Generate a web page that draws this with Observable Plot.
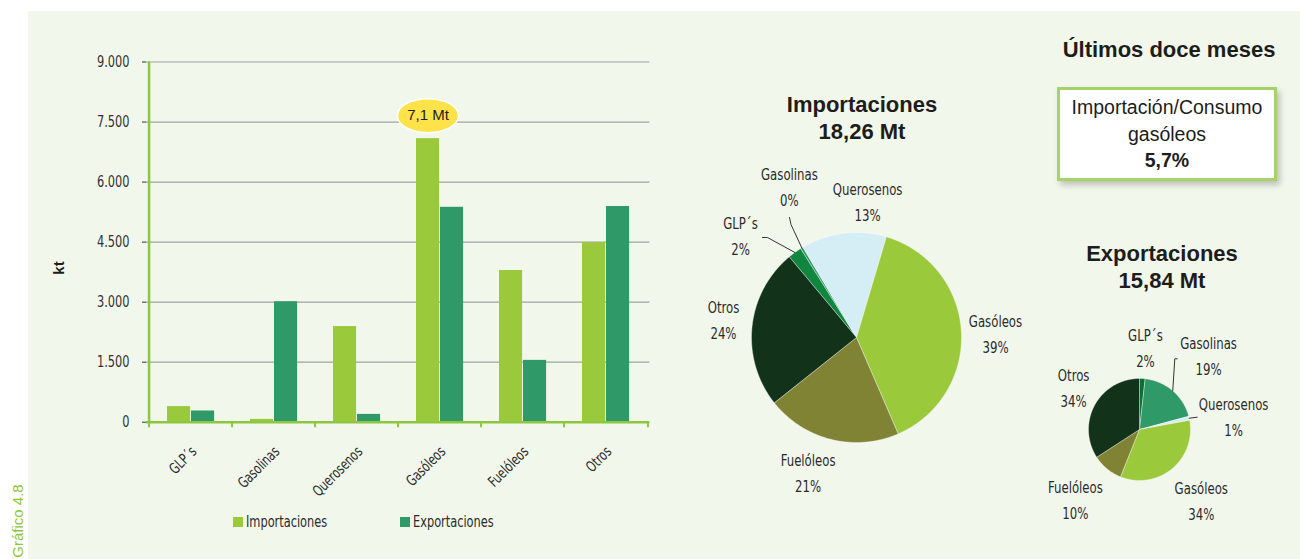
<!DOCTYPE html>
<html>
<head>
<meta charset="utf-8">
<script src="https://cdn.jsdelivr.net/npm/d3@7"></script>
<script src="https://cdn.jsdelivr.net/npm/@observablehq/plot@0.6"></script>
<style>
  html, body { margin: 0; padding: 0; background: #ffffff; }
  body { width: 1300px; height: 559px; position: relative; overflow: hidden; }
  #panel { position: absolute; left: 28px; top: 11px; width: 1272px; height: 548px; background: #f2f7ec; }
  .abs { position: absolute; }
  .title { font-family: 'Liberation Sans', Arial, sans-serif; font-weight: bold; font-size: 22px; color: #1d1d1b; text-align: center; line-height: 26.5px; white-space: nowrap; }
  .narrow { font-family: 'Liberation Sans Narrow', 'Arial Narrow', 'DejaVu Sans Condensed', sans-serif; }
  #box { left: 1057px; top: 87px; width: 214px; height: 84px; background: #fff; border: 3px solid #a5d36a; box-shadow: 3px 4px 6px rgba(0,0,0,0.22);
         font-family: 'Liberation Sans', Arial, sans-serif; font-size: 19.5px; color: #1d1d1b; text-align: center; line-height: 26.6px; padding-top: 4px; box-sizing: content-box; }
  .legend { font-size: 16px; color: #2a2a2a; display: flex; align-items: center; white-space: nowrap; }
  .legend .t { display: inline-block; transform: scaleX(0.79); transform-origin: left center; }
  .sw { width: 10px; height: 10px; display: inline-block; margin-right: 3px; }
</style>
</head>
<body>
<div id="panel"></div>
<div id="bars" class="abs" style="left:0;top:0"></div>
<div id="pieImp" class="abs" style="left:690px;top:150px"></div>
<div id="pieExp" class="abs" style="left:1040px;top:320px"></div>

<div class="abs title" style="left:762px;top:92px;width:200px">Importaciones<br>18,26 Mt</div>
<div class="abs title" style="left:1062px;top:241px;width:200px">Exportaciones<br>15,84 Mt</div>
<div class="abs title" style="left:1049px;top:37px;width:240px">Últimos doce meses</div>
<div id="box" class="abs">Importación/Consumo<br>gasóleos<br><b>5,7%</b></div>

<div class="abs" style="left:58px;top:268px;transform:translate(-50%,-50%) rotate(-90deg);font-family:'Liberation Sans',sans-serif;font-weight:bold;font-size:15px;color:#1d1d1b">kt</div>
<div class="abs" style="left:17px;top:521px;transform:translate(-50%,-50%) rotate(-90deg);font-family:'Liberation Sans',Arial,sans-serif;font-size:15px;color:#8dc63f;white-space:nowrap">Gráfico 4.8</div>

<div class="abs legend narrow" style="left:233px;top:512px"><span class="sw" style="background:#9bc93c"></span><span class="t">Importaciones</span></div>
<div class="abs legend narrow" style="left:400px;top:512px"><span class="sw" style="background:#2f9967"></span><span class="t">Exportaciones</span></div>

<script>
// ---------------- DATA ----------------
const categorias = ["GLP´s", "Gasolinas", "Querosenos", "Gasóleos", "Fuelóleos", "Otros"];
const importaciones = [390, 70, 2390, 7085, 3790, 4485];   // kt
const exportaciones = [280, 3010, 195, 5370, 1545, 5390];  // kt
const pctImportaciones = ["2%", "0%", "13%", "39%", "21%", "24%"];
const pctExportaciones = ["2%", "19%", "1%", "34%", "10%", "34%"];
const yTicks = [0, 1500, 3000, 4500, 6000, 7500, 9000];
const yTickLabels = ["0", "1.500", "3.000", "4.500", "6.000", "7.500", "9.000"];

// ---------------- STYLE ----------------
const NARROW = "'Liberation Sans Narrow','Arial Narrow','DejaVu Sans Condensed',sans-serif";
const SANS = "'Liberation Sans',Arial,sans-serif";
const CONDENSE = 0.79;
const C_IMP = "#9bc93c", C_EXP = "#2f9967", AXIS_GREEN = "#8dc63f", GRID = "#9ea59e";
const sliceColorsImp = ["#118641", "#2f9967", "#d5edf5", "#9bc93c", "#808234", "#13321a"];
const sliceColorsExp = ["#0c6f36", "#2f9967", "#d5edf5", "#9bc93c", "#808234", "#13321a"];

// ---------------- BAR CHART ----------------
const rows = categorias.map((c, i) => ({cat: c, imp: importaciones[i], exp: exportaciones[i]}));
const BW = 660, BH = 559, ML = 146, MR = 10.6, MT = 61.5, MB = 137.3;
const band = (BW - ML - MR) / categorias.length;

const ellipseSymbol = {
  draw(ctx, size) {
    const ry = Math.sqrt(size / Math.PI), rx = ry * 1.8, k = 0.5523;
    ctx.moveTo(rx, 0);
    ctx.bezierCurveTo(rx, k * ry, k * rx, ry, 0, ry);
    ctx.bezierCurveTo(-k * rx, ry, -rx, k * ry, -rx, 0);
    ctx.bezierCurveTo(-rx, -k * ry, -k * rx, -ry, 0, -ry);
    ctx.bezierCurveTo(k * rx, -ry, rx, -k * ry, rx, 0);
    ctx.closePath();
  }
};
const iGas = categorias.indexOf("Gasóleos");
const callout = [{cat: categorias[iGas], v: importaciones[iGas],
  label: (importaciones[iGas] / 1000).toFixed(1).replace(".", ",") + " Mt"}];

const barChart = Plot.plot({
  width: BW, height: BH,
  marginLeft: ML, marginRight: MR, marginTop: MT, marginBottom: MB,
  style: {background: "transparent", fontFamily: NARROW, fontSize: "16px", color: "#333", overflow: "visible"},
  x: {type: "band", domain: categorias, padding: 0, axis: null},
  y: {domain: [0, 9000], ticks: yTicks, tickFormat: d => yTickLabels[yTicks.indexOf(d)], tickSize: 4, tickPadding: 13, label: null},
  marks: [
    Plot.ruleY(yTicks.filter(v => v > 0), {stroke: GRID, strokeWidth: 1.2}),
    Plot.barY(rows, {x: "cat", y: "imp", fill: C_IMP, insetLeft: 18, insetRight: band - 42}),
    Plot.barY(rows, {x: "cat", y: "exp", fill: C_EXP, insetLeft: 42, insetRight: band - 66}),
    Plot.ruleY([0], {stroke: AXIS_GREEN, strokeWidth: 2.5}),
    Plot.ruleX([categorias[0]], {x: d => d, dx: -band / 2, y1: 0, y2: 9000, stroke: AXIS_GREEN, strokeWidth: 2.5}),
    Plot.ruleX(categorias, {x: d => d, dx: -band / 2, y1: 0, y2: -140, stroke: AXIS_GREEN, strokeWidth: 2}),
    Plot.ruleX([categorias[categorias.length - 1]], {x: d => d, dx: band / 2, y1: 0, y2: -140, stroke: AXIS_GREEN, strokeWidth: 2}),
    Plot.text(categorias, {x: d => d, y: () => 0, dx: 3, dy: 27, rotate: -45, textAnchor: "end", lineAnchor: "middle", fontSize: 15, fill: "#2a2a2a"}),
    Plot.dot(callout, {x: "cat", y: "v", dx: -12, dy: -23, r: 17, symbol: ellipseSymbol, fill: "#fde24a", stroke: "#ffffff", strokeWidth: 1.5}),
    Plot.text(callout, {x: "cat", y: "v", dx: -12, dy: -23, text: "label", fontFamily: SANS, fontSize: 15, fill: "#1d1d1b"})
  ]
});
document.getElementById("bars").appendChild(barChart);

// ---------------- PIES ----------------
function pieChart({w, h, cx, cy, r, values, pcts, start, colors, labelLayout, leaders}) {
  const total = d3.sum(values);
  let a = start;
  const slices = values.map((v, i) => {
    const a0 = a, a1 = a + v / total * 360; a = a1;
    return {cat: categorias[i], a0, a1, mid: (a0 + a1) / 2, color: colors[i], pct: pcts[i]};
  });
  const rad = d => d * Math.PI / 180;
  const polar = (ang, R) => ({x: R * Math.sin(rad(ang)), y: R * Math.cos(rad(ang))});
  const marks = [];
  for (const s of slices) {
    const pts = [{x: 0, y: 0}];
    const n = Math.max(2, Math.ceil((s.a1 - s.a0) / 0.5));
    for (let k = 0; k <= n; k++) pts.push(polar(s.a0 + (s.a1 - s.a0) * k / n, r));
    pts.push({x: 0, y: 0});
    marks.push(Plot.line(pts, {x: "x", y: "y", fill: s.color, stroke: "#ffffff", strokeOpacity: 0.55, strokeWidth: 0.7}));
  }
  const labels = slices.map((s, i) => {
    const L = labelLayout[i];
    return {...polar(s.mid + L.da, L.rf * r), name: s.cat, pct: s.pct};
  });
  for (const s of slices) {
    const ld = leaders[s.cat];
    if (!ld) continue;
    const pts = ld.map(([dx, dy]) => ({x: dx, y: -dy}));
    pts.push(polar(s.mid, r));
    marks.push(Plot.line(pts, {x: "x", y: "y", stroke: "#333", strokeWidth: 1}));
  }
  marks.push(Plot.text(labels, {x: "x", y: "y", text: "name", dy: -13, lineAnchor: "middle", fontSize: 16.5, fill: "#2a2a2a"}));
  marks.push(Plot.text(labels, {x: "x", y: "y", text: "pct", dy: 13, lineAnchor: "middle", fontSize: 16.5, fill: "#2a2a2a"}));
  return Plot.plot({
    width: w, height: h, margin: 0,
    style: {background: "transparent", fontFamily: NARROW, fontSize: "16px", overflow: "visible"},
    x: {domain: [-cx, w - cx], range: [0, w], axis: null},
    y: {domain: [-(h - cy), cy], range: [h, 0], axis: null},
    marks
  });
}

document.getElementById("pieImp").appendChild(pieChart({
  w: 350, h: 355, cx: 166, cy: 187, r: 105,
  values: importaciones, pcts: pctImportaciones, start: -39.8, colors: sliceColorsImp,
  labelLayout: [
    {da: -13, rf: 1.465}, {da: 7.3, rf: 1.565}, {da: 11.8, rf: 1.29},
    {da: 2.3, rf: 1.324}, {da: 5.5, rf: 1.376}, {da: 1.3, rf: 1.277}
  ],
  leaders: {"GLP´s": [[-94, -100], [-89, -100]], "Gasolinas": [[-67, -120], [-65.5, -113]]}
}));

document.getElementById("pieExp").appendChild(pieChart({
  w: 260, h: 215, cx: 99, cy: 109, r: 51,
  values: exportaciones, pcts: pctExportaciones, start: 0, colors: sliceColorsExp,
  labelLayout: [
    {da: 1, rf: 1.59}, {da: 2.7, rf: 1.97}, {da: 5.5, rf: 1.86},
    {da: -1.3, rf: 1.86}, {da: 2.6, rf: 1.875}, {da: 3.3, rf: 1.52}
  ],
  leaders: {"Gasolinas": [[37.7, -70.7], [35.3, -70.7]], "Querosenos": [[57.7, -12.3]]}
}));

// Condense the narrow-font texts horizontally to mimic the condensed typeface
document.querySelectorAll("#bars svg text, #pieImp svg text, #pieExp svg text").forEach(t => {
  const ff = getComputedStyle(t).fontFamily || "";
  if (!/Narrow/.test(ff)) return;
  const L = t.getComputedTextLength();
  if (L > 0) {
    t.setAttribute("textLength", (L * CONDENSE).toFixed(2));
    t.setAttribute("lengthAdjust", "spacingAndGlyphs");
  }
});
</script>
</body>
</html>
